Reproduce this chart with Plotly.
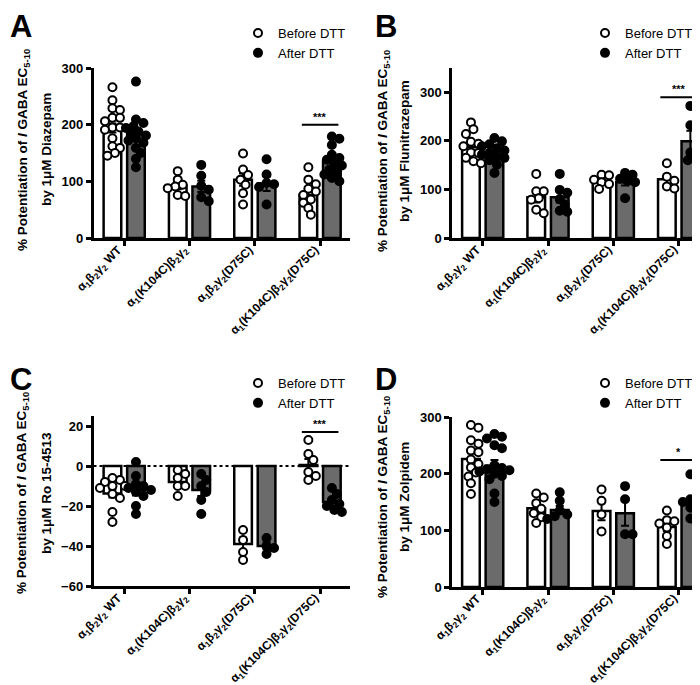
import plotly.graph_objects as go

groups = [
    "α<sub>1</sub>β<sub>2</sub>γ<sub>2</sub> WT",
    "α<sub>1</sub>(K104C)β<sub>2</sub>γ<sub>2</sub>",
    "α<sub>1</sub>β<sub>2</sub>γ<sub>2</sub>(D75C)",
    "α<sub>1</sub>(K104C)β<sub>2</sub>γ<sub>2</sub>(D75C)",
]
drugs = ["Diazepam", "Flunitrazepam", "Ro 15-4513", "Zolpidem"]
letters = ["A", "B", "C", "D"]

# panel A - diazepam
a_before_mean = [194, 92, 103, 76]
a_after_mean = [184, 91, 96, 135]
a_before_sem = [8, 6, 11, 8]
a_after_sem = [9, 10, 13, 8]
a_before_pts = [
    [266, 243, 229, 226, 212, 212, 206, 195, 195, 191, 176, 162, 159, 150, 145],
    [118, 103, 94, 91, 88, 76, 74],
    [149, 121, 111, 103, 94, 79, 59],
    [125, 103, 95, 87, 82, 76, 68, 62, 53, 41],
]
a_after_pts = [
    [276, 209, 203, 197, 194, 188, 185, 181, 176, 172, 168, 159, 150, 140, 125],
    [129, 110, 92, 85, 72, 65],
    [139, 112, 97, 95, 90, 59],
    [179, 175, 164, 147, 141, 138, 131, 128, 121, 115, 112, 106, 100],
]

# panel B - flunitrazepam
b_before_mean = [187, 84, 117, 121]
b_after_mean = [173, 84, 115, 199]
b_before_sem = [7, 11, 4, 10]
b_after_sem = [5, 11, 7, 22]
b_before_pts = [
    [238, 224, 214, 198, 194, 189, 185, 176, 175, 165, 158, 154],
    [132, 96, 96, 82, 79, 58, 51],
    [130, 129, 120, 115, 111, 101],
    [154, 126, 118, 106, 102],
]
b_after_pts = [
    [206, 199, 193, 189, 185, 180, 175, 172, 168, 165, 160, 151, 134],
    [132, 99, 93, 80, 69, 56, 54],
    [134, 130, 122, 117, 115, 82],
    [272, 232, 176, 163, 160],
]

# panel C - Ro 15-4513
c_before_mean = [-13.8, -8, -39, 0.5]
c_after_mean = [-12.2, -12, -40, -18]
c_before_sem = [2, 2, 3.3, 3]
c_after_sem = [2.5, 3, 1.6, 1.6]
c_before_pts = [
    [-7, -6, -8, -10, -10, -11, -14, -16, -23, -28],
    [-2, -4, -6, -10, -10, -15],
    [-32, -37, -43, -47],
    [13, 6, 3, -3, -5, -7],
]
c_after_pts = [
    [2, -5, -9, -10, -11, -12, -13, -15, -20, -24],
    [-4, -7, -10, -13, -17, -24],
    [-36, -40, -41, -44],
    [-11, -14, -17, -19, -20, -22, -23],
]

# panel D - zolpidem
d_before_mean = [226, 139, 134, 106]
d_after_mean = [214, 136, 130, 146]
d_before_sem = [10, 7, 16, 7]
d_after_sem = [10, 7, 22, 8]
d_before_pts = [
    [286, 281, 259, 253, 241, 238, 225, 217, 211, 202, 195, 183, 164],
    [165, 158, 148, 138, 130, 123, 113],
    [172, 152, 128, 98],
    [135, 118, 116, 112, 105, 90, 76],
]
d_after_pts = [
    [270, 265, 262, 250, 245, 215, 210, 208, 206, 204, 200, 196, 190, 165, 150],
    [167, 152, 135, 128, 125, 120],
    [178, 155, 93, 93],
    [199, 155, 155, 150, 148, 140, 135, 121, 118],
]

sig_y = [200, 290, 17, 224]
sig_text = ["***", "***", "***", "*"]

y_ranges = [[0, 300], [0, 350], [-60, 25], [0, 300]]
y_ticks = [[0, 100, 200, 300], [0, 100, 200, 300], [-60, -40, -20, 0, 20], [0, 100, 200, 300]]

FONT = "Arial, Liberation Sans, sans-serif"
W, H = 700, 685
x_dom = [[85.5 / W, 341.5 / W], [444 / W, 1.0], [85.5 / W, 341.5 / W], [444 / W, 1.0]]
y_dom = [[1 - 230 / H, 1 - 60 / H], [1 - 230 / H, 1 - 60 / H],
         [1 - 578 / H, 1 - 408 / H], [1 - 579 / H, 1 - 409 / H]]

panels = [
    (a_before_mean, a_after_mean, a_before_sem, a_after_sem, a_before_pts, a_after_pts),
    (b_before_mean, b_after_mean, b_before_sem, b_after_sem, b_before_pts, b_after_pts),
    (c_before_mean, c_after_mean, c_before_sem, c_after_sem, c_before_pts, c_after_pts),
    (d_before_mean, d_after_mean, d_before_sem, d_after_sem, d_before_pts, d_after_pts),
]

BAR_W = 0.27
OFF = 0.18
X_RANGE = [-0.47, 3.45]

# pixel positions of the hand-placed texts, per panel
letter_pos = [(0, -1), (365, -1), (0, 352), (365, 352)]
title_x = [(15, 38), (375, 396), (14, 38), (375, 396)]
title_y = [142, 143, 485, 489]
legend_pos = [(230, 10), (577, 10), (230, 360), (577, 360)]


def swarm(center, values, px_per_y, px_per_x, diam=7.0):
    # simple deterministic beeswarm so the circles don't pile up
    placed = []
    xs = [0.0] * len(values)
    order = sorted(range(len(values)), key=lambda i: -values[i])
    for i in order:
        y = values[i] * px_per_y
        off = 0.0
        for k in range(0, 30):
            off = ((k + 1) // 2) * (1 if k % 2 else -1) * 2.5
            if all((off - px) ** 2 + (y - py) ** 2 >= diam ** 2 for px, py in placed):
                break
        placed.append((off, y))
        xs[i] = center + off / px_per_x
    return xs


fig = go.Figure()
annotations = []
shapes = []

for p, (bm, am, bs, as_, bpts, apts) in enumerate(panels):
    n = "" if p == 0 else str(p + 1)
    xa, ya = "x" + n, "y" + n
    leg = "legend" + n
    cats = list(range(len(groups)))
    px_per_y = (y_dom[p][1] - y_dom[p][0]) * H / (y_ranges[p][1] - y_ranges[p][0])
    px_per_x = (x_dom[p][1] - x_dom[p][0]) * W / (X_RANGE[1] - X_RANGE[0])

    for means, sems, fill, off in [(bm, bs, "white", -OFF), (am, as_, "#6b6b6b", OFF)]:
        fig.add_trace(go.Bar(
            x=cats, y=means, width=BAR_W, offset=off - BAR_W / 2,
            marker=dict(color=fill, line=dict(color="black", width=2.5)),
            error_y=dict(type="data", array=sems, color="black", thickness=2, width=4),
            xaxis=xa, yaxis=ya, showlegend=False, hoverinfo="skip",
        ))

    for name, pts, off, fill in [("Before DTT", bpts, -OFF, "white"),
                                 ("After DTT", apts, OFF, "black")]:
        xs, ys = [], []
        for c, vals in enumerate(pts):
            xs += swarm(c + off, vals, px_per_y, px_per_x)
            ys += vals
        fig.add_trace(go.Scatter(
            x=xs, y=ys, mode="markers", name=name, legend=leg,
            marker=dict(symbol="circle", size=8, color=fill,
                        line=dict(color="black", width=2)),
            xaxis=xa, yaxis=ya,
        ))

    axis_common = dict(showline=True, linecolor="black", linewidth=2.5, ticks="outside",
                       ticklen=5, tickwidth=2.5, tickcolor="black", showgrid=False,
                       zeroline=False, automargin=False)
    fig.update_layout(**{
        "xaxis" + n: dict(domain=x_dom[p], anchor=ya, range=X_RANGE, tickvals=cats,
                          showticklabels=False, **axis_common),
        "yaxis" + n: dict(domain=y_dom[p], anchor=xa, range=y_ranges[p], tickvals=y_ticks[p],
                          tickfont=dict(family=FONT, size=13, color="black", weight="bold"),
                          **axis_common),
        leg: dict(x=legend_pos[p][0] / W, y=1 - legend_pos[p][1] / H,
                  xanchor="left", yanchor="top",
                  bgcolor="rgba(0,0,0,0)", tracegroupgap=0,
                  font=dict(family=FONT, size=13, color="black")),
    })

    # slanted category labels, hung from the tick marks
    for c, label in zip(cats, groups):
        annotations.append(dict(x=c, y=0, xref=xa, yref=ya + " domain", text=label,
                                textangle=-45, xanchor="right", yanchor="top",
                                xshift=5, yshift=-2, showarrow=False,
                                font=dict(family=FONT, size=12, color="black", weight="bold")))

    # significance bar over the last construct
    shapes.append(dict(type="line", xref=xa, yref=ya, x0=3 - 0.28, x1=3 + 0.28,
                       y0=sig_y[p], y1=sig_y[p], line=dict(color="black", width=2)))
    annotations.append(dict(x=3, y=sig_y[p], xref=xa, yref=ya, text=sig_text[p],
                            showarrow=False, yanchor="bottom",
                            font=dict(family=FONT, size=11, color="black", weight="bold")))

    # panel letter
    annotations.append(dict(x=letter_pos[p][0] / W, y=1 - letter_pos[p][1] / H,
                            xref="paper", yref="paper", xanchor="left", yanchor="top",
                            showarrow=False, text=letters[p],
                            font=dict(family=FONT, size=31, color="black", weight="bold")))

    # y-axis title, two lines
    lines = ["% Potentiation of <i>I</i> GABA EC<sub>5-10</sub>", "by 1μM " + drugs[p]]
    for line, lx in zip(lines, title_x[p]):
        annotations.append(dict(x=lx / W, y=1 - title_y[p] / H, xref="paper", yref="paper",
                                xanchor="center", yanchor="middle", showarrow=False,
                                textangle=-90, text=line,
                                font=dict(family=FONT, size=13.5, color="black", weight="bold")))

# dotted zero line in panel C
shapes.append(dict(type="line", xref="x3 domain", yref="y3", x0=0, x1=1, y0=0, y1=0,
                   line=dict(color="black", width=2, dash="dot")))

fig.update_layout(
    width=W, height=H, margin=dict(l=0, r=0, t=0, b=0),
    paper_bgcolor="white", plot_bgcolor="white",
    annotations=annotations, shapes=shapes,
    font=dict(family=FONT, color="black"),
)

fig.write_html("out.html")
